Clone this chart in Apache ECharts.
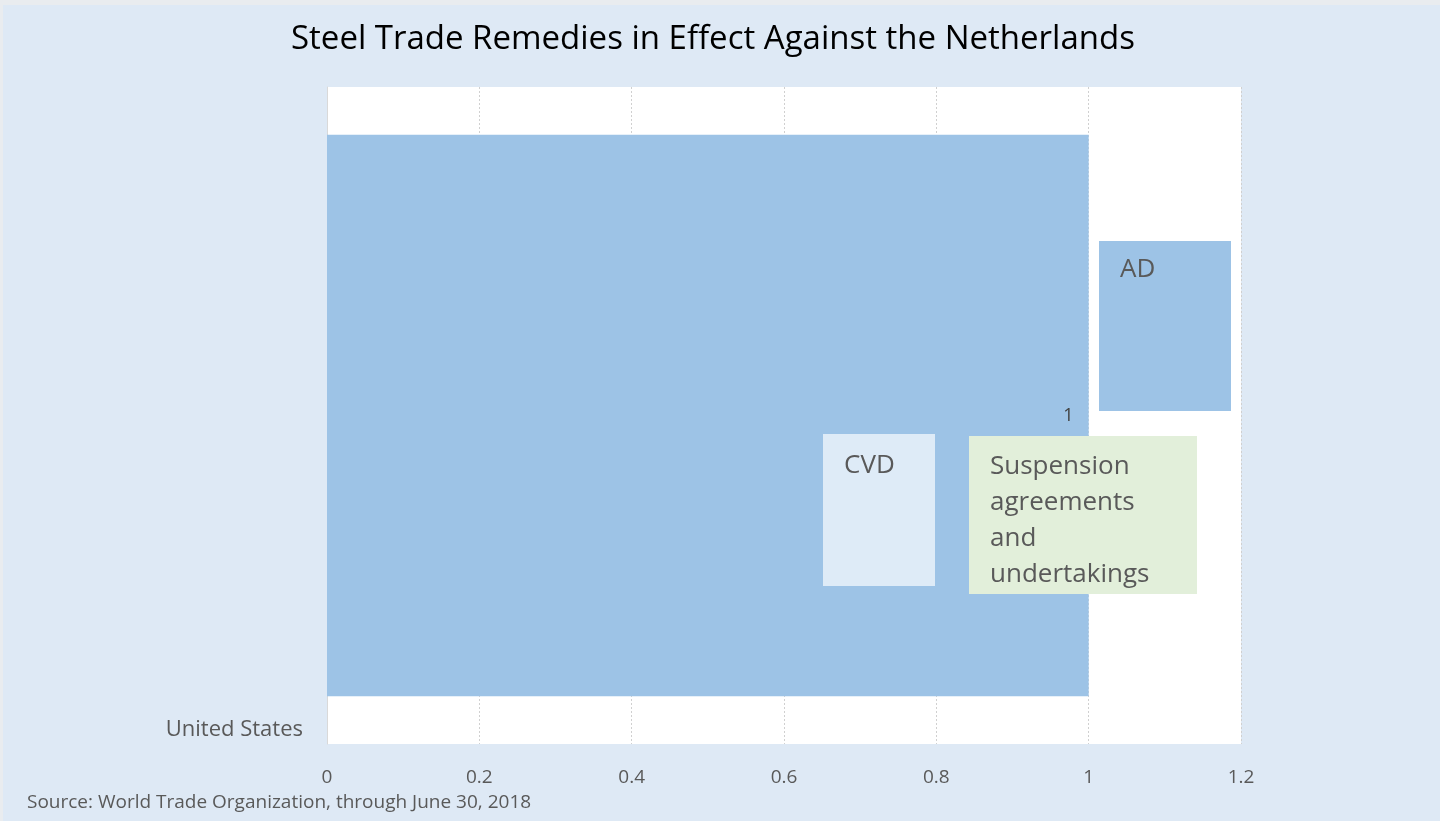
<!DOCTYPE html>
<html>
<head>
<meta charset="utf-8">
<script src="https://cdn.jsdelivr.net/npm/echarts@6/dist/echarts.min.js"></script>
<style>
  html, body { margin: 0; padding: 0; background: #dee9f5; }
  #chart { width: 1440px; height: 821px; }
  /* thin frame that Excel leaves round the chart area */
  body::after {
    content: ""; position: fixed; left: 0; top: 0; width: 1440px; height: 821px;
    border-top: 5px solid #e9ecef; border-left: 3px solid #e9ecef;
    box-sizing: border-box; pointer-events: none;
  }
</style>
</head>
<body>
<div id="chart"></div>
<script>
// chart data
const categories = ["United States"]
const adValues = [1]
const cvdValues = [null]
const suspensionValues = [null]
const xTicks = [0, 0.2, 0.4, 0.6, 0.8, 1, 1.2]

const seriesNames = ["AD", "CVD", "Suspension agreements and undertakings"]
const legendLines = {
  AD: ["AD"],
  CVD: ["CVD"],
  "Suspension agreements and undertakings": ["Suspension", "agreements", "and", "undertakings"],
}

const FONT = "'Open Sans', 'Noto Sans', sans-serif"
const TEXT = "#595959"
const LINE = 36

const chart = echarts.init(document.getElementById("chart"))

// each legend entry is drawn as its own coloured box (Excel-style floating legend)
// rich text: a spacer line on top, the label lines, a spacer line below
const legendBox = (name, left, top, w, h, firstCenter, bg) => {
  const lines = legendLines[name]
  const topGap = firstCenter - LINE / 2
  const bottomGap = Math.max(1, h - topGap - lines.length * LINE)
  return {
    data: [name],
    left: left - 5,
    top: top,
    padding: 0,
    itemWidth: 0,
    itemHeight: 0,
    selectedMode: false,
    formatter: () =>
      ["{s1| }", ...lines.map((l) => "{t|" + l + "}"), "{s2| }"].join("\n"),
    textStyle: {
      backgroundColor: bg,
      padding: [0, 0, 0, 21],
      width: w - 21,
      rich: {
        t: { fontFamily: FONT, fontSize: 26, color: TEXT, lineHeight: LINE },
        s1: { fontSize: 1, lineHeight: topGap, height: topGap },
        s2: { fontSize: 1, lineHeight: bottomGap, height: bottomGap },
      },
    },
  }
}

const option = {
  backgroundColor: "#dee9f5",
  title: [
    {
      text: "Steel Trade Remedies in Effect Against the Netherlands",
      left: 291,
      top: 23,
      padding: 0,
      textStyle: { fontFamily: FONT, fontSize: 33, fontWeight: "normal", color: "#000" },
    },
    {
      text: "Source: World Trade Organization, through June 30, 2018",
      left: 27,
      top: 793,
      padding: 0,
      textStyle: { fontFamily: FONT, fontSize: 19, fontWeight: "normal", color: TEXT },
    },
  ],
  legend: [
    legendBox("AD", 1099, 241, 132, 170, 29, "#9dc3e6"),
    legendBox("CVD", 823, 434, 112, 152, 32, "#deebf7"),
    legendBox("Suspension agreements and undertakings", 969, 436, 228, 158, 31, "#e2efda"),
  ],
  grid: {
    left: 327,
    right: 199,
    top: 87,
    bottom: 77,
    containLabel: false,
    outerBoundsMode: "none",
    show: true,
    backgroundColor: "#ffffff",
    borderWidth: 0,
  },
  xAxis: {
    type: "value",
    min: xTicks[0],
    max: xTicks[xTicks.length - 1],
    interval: 0.2,
    axisLine: { show: false },
    axisTick: { show: false },
    axisLabel: {
      fontFamily: FONT,
      fontSize: 19,
      color: TEXT,
      margin: 24,
      formatter: (v) => String(Math.round(v * 10) / 10),
    },
    splitLine: { lineStyle: { color: "#d0d0d0", type: [2, 2], width: 1 } },
  },
  yAxis: {
    type: "category",
    data: categories,
    axisLine: { show: true, lineStyle: { color: "#d9d9d9" } },
    axisTick: { show: false },
    axisLabel: {
      fontFamily: FONT,
      fontSize: 22,
      color: TEXT,
      margin: 24,
      // Excel puts the category label at the bottom of the band
      verticalAlign: "top",
      lineHeight: 628,
    },
  },
  series: [
    {
      name: seriesNames[0],
      type: "bar",
      stack: "total",
      barCategoryGap: "14.5%",
      data: adValues,
      itemStyle: { color: "#9dc3e6" },
      label: {
        show: true,
        position: "insideRight",
        distance: 15,
        fontFamily: FONT,
        fontSize: 18,
        color: "#404040",
      },
    },
    {
      name: seriesNames[1],
      type: "bar",
      stack: "total",
      data: cvdValues,
      itemStyle: { color: "#deebf7" },
    },
    {
      name: seriesNames[2],
      type: "bar",
      stack: "total",
      data: suspensionValues,
      itemStyle: { color: "#e2efda" },
    },
  ],
}

chart.setOption(option)
</script>
</body>
</html>
